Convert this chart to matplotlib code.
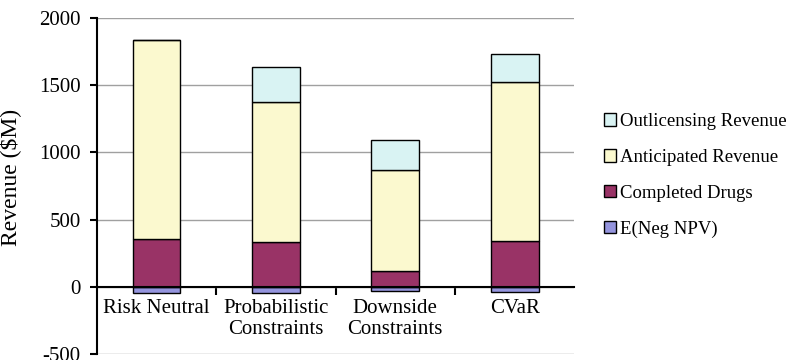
import numpy as np
import matplotlib
matplotlib.use("Agg")
import matplotlib.pyplot as plt
from matplotlib.ticker import FixedLocator

plt.rcParams['font.family'] = ['Liberation Serif', 'DejaVu Serif']
plt.rcParams['axes.unicode_minus'] = False

# Data (in $M)
categories = ["Risk Neutral", "Probabilistic\nConstraints", "Downside\nConstraints", "CVaR"]
neg_npv = [-45, -45, -35, -40]
completed = [355, 335, 120, 340]
anticipated = [1480, 1038, 750, 1187]
outlicensing = [0, 260, 223, 205]

colors = {
    "out": "#d9f3f3",
    "ant": "#fbf9cf",
    "comp": "#993366",
    "neg": "#9494dd",
}

fig = plt.figure(figsize=(8, 3.6), dpi=100)
ax = fig.add_axes([0.121, 0.017, 0.597, 0.933])

x = np.arange(len(categories))
w = 0.4
kw = dict(width=w, edgecolor="black", linewidth=1, zorder=3)

b_neg = ax.bar(x, neg_npv, color=colors["neg"], label="E(Neg NPV)", **kw)
b_comp = ax.bar(x, completed, color=colors["comp"], label="Completed Drugs", **kw)
bottom = np.array(completed)
b_ant = ax.bar(x, anticipated, bottom=bottom, color=colors["ant"],
               label="Anticipated Revenue", **kw)
bottom = bottom + np.array(anticipated)
b_out = ax.bar(x, outlicensing, bottom=bottom, color=colors["out"],
               label="Outlicensing Revenue", **kw)

ax.set_xlim(-0.5, len(categories) - 0.5)
ax.set_ylim(-500, 2000)
ax.set_yticks(np.arange(-500, 2001, 500))
ax.yaxis.grid(True, color="#a0a0a0", linewidth=1)
ax.set_axisbelow(True)

for s in ["top", "right"]:
    ax.spines[s].set_visible(False)
ax.spines["bottom"].set_position(("data", 0))
ax.spines["bottom"].set_linewidth(1.5)
ax.spines["bottom"].set_zorder(4)
ax.spines["left"].set_linewidth(1.5)

ax.set_xticks(x)
ax.set_xticklabels(categories, fontsize=15, linespacing=1.1)
ax.xaxis.set_minor_locator(FixedLocator([0.5, 1.5, 2.5]))
ax.tick_params(axis="x", which="major", length=0, pad=9)
ax.tick_params(axis="x", which="minor", length=6, width=1.5, direction="out")
ax.tick_params(axis="y", length=5, width=1.5, labelsize=15, pad=6.5)
ax.set_ylabel("Revenue ($M)", fontsize=17)
ax.yaxis.set_label_coords(-0.159, 0.524)

handles = [b_out, b_ant, b_comp, b_neg]
fig.legend(handles, [h.get_label() for h in handles],
           loc="center left", bbox_to_anchor=(0.748, 0.5125),
           borderaxespad=0, borderpad=0.3,
           frameon=False, fontsize=13.5, handlelength=0.65, handleheight=0.65,
           handletextpad=0.2, labelspacing=1.0)

fig.savefig("out.png", dpi=100)
